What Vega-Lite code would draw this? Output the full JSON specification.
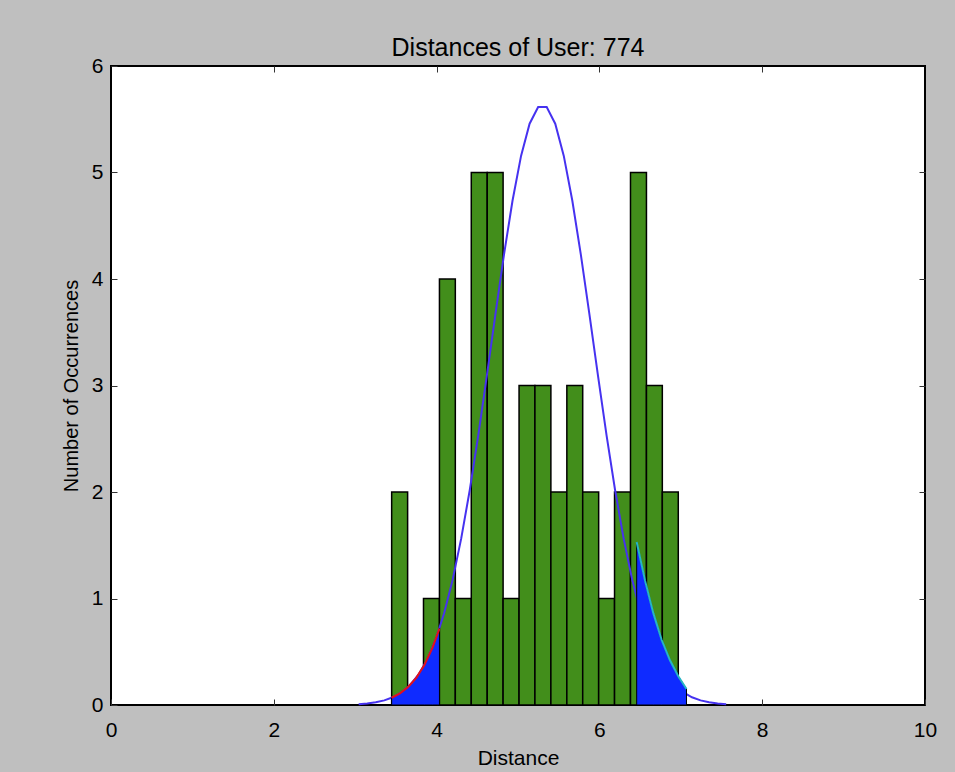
{
  "$schema": "https://vega.github.io/schema/vega-lite/v6.json",
  "width": 814,
  "height": 639,
  "autosize": {"type": "none"},
  "padding": {"left": 111, "top": 66, "right": 30, "bottom": 67},
  "background": "#bfbfbf",
  "title": {"text": "Distances of User: 774", "fontSize": 25, "font": "Liberation Sans", "fontWeight": "normal", "color": "black", "offset": -6, "anchor": "middle"},
  "config": {
    "view": {"fill": "white", "stroke": "black", "strokeWidth": 2},
    "axis": {
      "labelFont": "Liberation Sans", "titleFont": "Liberation Sans",
      "labelFontSize": 21, "titleFontSize": 21,
      "labelColor": "black", "titleColor": "black", "titleFontWeight": "normal",
      "domain": false, "grid": false, "tickSize": -6, "tickColor": "#333333", "tickWidth": 1,
      "labelFlush": false
    }
  },
  "datasets": {
    "bins": [
      {"lo": 3.448, "hi": 3.644, "count": 2},
      {"lo": 3.839, "hi": 4.035, "count": 1},
      {"lo": 4.035, "hi": 4.230, "count": 4},
      {"lo": 4.230, "hi": 4.426, "count": 1},
      {"lo": 4.426, "hi": 4.622, "count": 5},
      {"lo": 4.622, "hi": 4.817, "count": 5},
      {"lo": 4.817, "hi": 5.013, "count": 1},
      {"lo": 5.013, "hi": 5.208, "count": 3},
      {"lo": 5.208, "hi": 5.404, "count": 3},
      {"lo": 5.404, "hi": 5.600, "count": 2},
      {"lo": 5.600, "hi": 5.795, "count": 3},
      {"lo": 5.795, "hi": 5.991, "count": 2},
      {"lo": 5.991, "hi": 6.186, "count": 1},
      {"lo": 6.186, "hi": 6.382, "count": 2},
      {"lo": 6.382, "hi": 6.578, "count": 5},
      {"lo": 6.578, "hi": 6.773, "count": 3},
      {"lo": 6.773, "hi": 6.969, "count": 2}
    ],
    "curve": [
      {"x": 3.0425, "y": 0.0079}, {"x": 3.1475, "y": 0.0144}, {"x": 3.2525, "y": 0.0254},
      {"x": 3.3575, "y": 0.0436}, {"x": 3.4625, "y": 0.0728}, {"x": 3.5675, "y": 0.118},
      {"x": 3.6725, "y": 0.186}, {"x": 3.7775, "y": 0.284}, {"x": 3.8825, "y": 0.423},
      {"x": 3.9875, "y": 0.612}, {"x": 4.0925, "y": 0.861}, {"x": 4.1975, "y": 1.177},
      {"x": 4.3025, "y": 1.564}, {"x": 4.4075, "y": 2.019}, {"x": 4.5125, "y": 2.535},
      {"x": 4.6175, "y": 3.092}, {"x": 4.7225, "y": 3.667}, {"x": 4.8275, "y": 4.227},
      {"x": 4.9325, "y": 4.735}, {"x": 5.0375, "y": 5.156}, {"x": 5.1425, "y": 5.458},
      {"x": 5.2475, "y": 5.615}, {"x": 5.3525, "y": 5.615}, {"x": 5.4575, "y": 5.458},
      {"x": 5.5625, "y": 5.156}, {"x": 5.6675, "y": 4.735}, {"x": 5.7725, "y": 4.227},
      {"x": 5.8775, "y": 3.667}, {"x": 5.9825, "y": 3.092}, {"x": 6.0875, "y": 2.535},
      {"x": 6.1925, "y": 2.019}, {"x": 6.2975, "y": 1.564}, {"x": 6.4025, "y": 1.177},
      {"x": 6.5075, "y": 0.861}, {"x": 6.6125, "y": 0.612}, {"x": 6.7175, "y": 0.423},
      {"x": 6.8225, "y": 0.284}, {"x": 6.9275, "y": 0.186}, {"x": 7.0325, "y": 0.118},
      {"x": 7.1375, "y": 0.0728}, {"x": 7.2425, "y": 0.0436}, {"x": 7.3475, "y": 0.0254},
      {"x": 7.4525, "y": 0.0144}, {"x": 7.5575, "y": 0.0079}
    ],
    "lefttail": [
      {"x": 3.448, "y": 0.068}, {"x": 3.55, "y": 0.109}, {"x": 3.65, "y": 0.169},
      {"x": 3.75, "y": 0.255}, {"x": 3.85, "y": 0.376}, {"x": 3.95, "y": 0.539},
      {"x": 4.035, "y": 0.717}
    ],
    "righttail": [
      {"x": 6.458, "y": 1.53}, {"x": 6.56, "y": 1.17}, {"x": 6.663, "y": 0.86},
      {"x": 6.765, "y": 0.61}, {"x": 6.867, "y": 0.42}, {"x": 6.969, "y": 0.27},
      {"x": 7.07, "y": 0.15}
    ]
  },
  "layer": [
    {
      "data": {"name": "bins"},
      "mark": {"type": "bar", "fill": "#428e1b", "stroke": "black", "strokeWidth": 1.5},
      "encoding": {
        "x": {"field": "lo", "type": "quantitative", "scale": {"domain": [0, 10], "nice": false},
              "axis": {"orient": "bottom", "values": [0, 2, 4, 6, 8, 10], "title": "Distance", "labelPadding": 20, "titlePadding": 7}},
        "x2": {"field": "hi"},
        "y": {"field": "count", "type": "quantitative", "scale": {"domain": [0, 6], "nice": false},
              "axis": {"orient": "left", "values": [0, 1, 2, 3, 4, 5, 6], "title": "Number of Occurrences", "titleFontSize": 20, "labelPadding": 14, "titlePadding": 10}},
        "y2": {"datum": 0}
      }
    },
    {
      "data": {"name": "curve"},
      "mark": {"type": "line", "color": "#4632f0", "strokeWidth": 2},
      "encoding": {
        "x": {"field": "x", "type": "quantitative", "axis": {"orient": "top", "labels": false, "title": null, "values": [2, 4, 6, 8]}},
        "y": {"field": "y", "type": "quantitative", "axis": {"orient": "right", "labels": false, "title": null, "values": [1, 2, 3, 4, 5]}}
      }
    },
    {
      "data": {"name": "lefttail"},
      "mark": {"type": "area", "fill": "#0f2bff", "fillOpacity": 1, "stroke": "black", "strokeWidth": 1},
      "encoding": {
        "x": {"field": "x", "type": "quantitative", "axis": null},
        "y": {"field": "y", "type": "quantitative", "axis": null}
      }
    },
    {
      "data": {"name": "lefttail"},
      "mark": {"type": "line", "color": "#e4101c", "strokeWidth": 2},
      "encoding": {
        "x": {"field": "x", "type": "quantitative", "axis": null},
        "y": {"field": "y", "type": "quantitative", "axis": null}
      }
    },
    {
      "data": {"name": "righttail"},
      "mark": {"type": "area", "fill": "#0f2bff", "fillOpacity": 1, "stroke": "black", "strokeWidth": 1},
      "encoding": {
        "x": {"field": "x", "type": "quantitative", "axis": null},
        "y": {"field": "y", "type": "quantitative", "axis": null}
      }
    },
    {
      "data": {"name": "righttail"},
      "mark": {"type": "line", "color": "#26b5c5", "strokeWidth": 2},
      "encoding": {
        "x": {"field": "x", "type": "quantitative", "axis": null},
        "y": {"field": "y", "type": "quantitative", "axis": null}
      }
    }
  ]
}
